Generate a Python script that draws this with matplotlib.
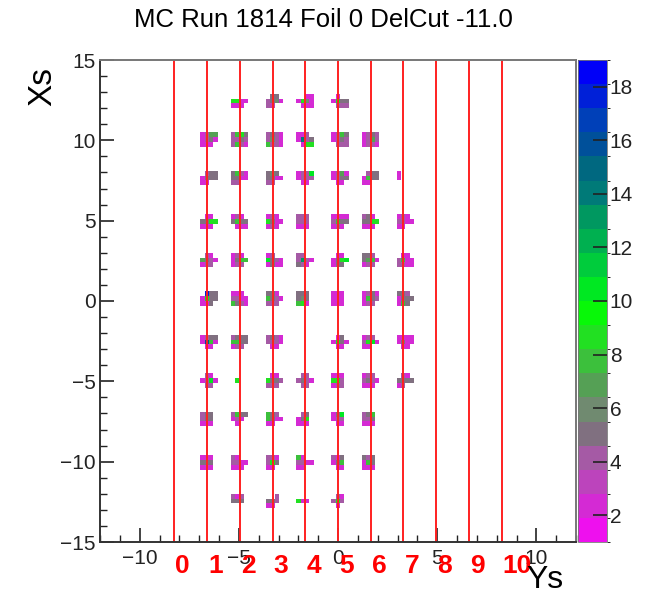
import numpy as np
import matplotlib
matplotlib.use("Agg")
import matplotlib.pyplot as plt
from matplotlib.colors import ListedColormap, BoundaryNorm
from matplotlib.ticker import MultipleLocator

plt.rcParams['font.family'] = ['Liberation Sans', 'DejaVu Sans']

title = "MC Run 1814 Foil 0 DelCut -11.0"
x_label = "Ys"
y_label = "Xs"

# Sieve-slit line positions (Ys) and their labels
line_pos = [-8.25, -6.6, -4.95, -3.3, -1.65, 0.0, 1.65, 3.3, 4.95, 6.6, 8.25]
line_labels = ["0", "1", "2", "3", "4", "5", "6", "7", "8", "9", "10"]

# Cluster rows (Xs) and column index k (Ys = k * 1.65)
row_xs = [12.5, 10.0, 7.5, 5.0, 2.5, 0.0, -2.5, -5.0, -7.5, -10.0, -12.5]

# counts per cluster: list of (k, 3x4 matrix [top, mid, bottom])
clusters_r12p5 = [
    (-3, [[0, 0, 0, 0], [9, 9, 2, 2], [2, 2, 2, 0]]),
    (-2, [[0, 5, 5, 0], [4, 5, 6, 2], [4, 3, 0, 0]]),
    (-1, [[0, 0, 2, 2], [2, 9, 6, 2], [0, 2, 2, 2]]),
    (0, [[0, 2, 0, 0], [2, 9, 5, 5], [0, 4, 4, 4]]),
]
clusters_r10 = [
    (-4, [[2, 4, 7, 7], [2, 4, 5, 2], [2, 2, 2, 0]]),
    (-3, [[4, 8, 9, 5], [4, 4, 5, 4], [4, 8, 4, 2]]),
    (-2, [[4, 5, 4, 2], [4, 6, 4, 2], [8, 4, 4, 2]]),
    (-1, [[2, 2, 4, 0], [2, 14, 4, 5], [0, 2, 9, 9]]),
    (0, [[2, 4, 8, 5], [2, 4, 5, 4], [0, 4, 4, 4]]),
    (1, [[2, 4, 5, 4], [2, 4, 7, 4], [2, 4, 4, 2]]),
]
clusters_r7p5 = [
    (-4, [[0, 4, 5, 5], [2, 5, 5, 5], [2, 2, 0, 0]]),
    (-3, [[5, 8, 4, 2], [5, 5, 2, 2], [4, 4, 0, 0]]),
    (-2, [[5, 6, 5, 0], [5, 5, 2, 2], [4, 4, 0, 0]]),
    (-1, [[2, 4, 4, 10], [2, 4, 4, 4], [0, 2, 2, 0]]),
    (0, [[2, 4, 7, 2], [2, 4, 5, 5], [0, 2, 2, 0]]),
    (1, [[0, 4, 5, 5], [2, 8, 5, 5], [2, 2, 0, 0]]),
    (2, [[2, 0, 0, 0], [2, 0, 0, 0], [0, 0, 0, 0]]),
]
clusters_r5 = [
    (-4, [[0, 2, 2, 0], [5, 5, 9, 9], [2, 2, 2, 0]]),
    (-3, [[2, 4, 2, 0], [5, 8, 5, 5], [0, 2, 2, 2]]),
    (-2, [[2, 4, 2, 0], [9, 5, 2, 2], [2, 4, 2, 0]]),
    (-1, [[4, 4, 4, 0], [4, 4, 4, 0], [2, 2, 2, 0]]),
    (0, [[2, 2, 2, 2], [4, 8, 5, 5], [2, 4, 2, 0]]),
    (1, [[4, 5, 2, 0], [5, 5, 9, 9], [2, 2, 2, 0]]),
    (2, [[2, 4, 2, 0], [4, 4, 2, 2], [2, 2, 0, 0]]),
]
clusters_r2p5 = [
    (-4, [[0, 4, 2, 0], [7, 5, 4, 2], [2, 4, 4, 0]]),
    (-3, [[2, 4, 2, 0], [2, 5, 8, 8], [2, 4, 4, 0]]),
    (-2, [[2, 4, 0, 0], [10, 5, 4, 2], [2, 5, 2, 2]]),
    (-1, [[4, 4, 0, 0], [4, 13, 4, 2], [5, 4, 2, 0]]),
    (0, [[0, 2, 2, 0], [2, 5, 9, 10], [2, 5, 5, 0]]),
    (1, [[5, 5, 4, 0], [5, 7, 8, 2], [2, 4, 4, 0]]),
    (2, [[0, 2, 2, 0], [4, 8, 2, 2], [4, 4, 2, 2]]),
]
clusters_r0 = [
    (-4, [[0, 18, 5, 5], [2, 9, 5, 5], [2, 2, 5, 0]]),
    (-3, [[2, 2, 2, 0], [4, 4, 2, 2], [8, 5, 4, 2]]),
    (-2, [[5, 5, 2, 0], [8, 5, 4, 2], [4, 4, 4, 0]]),
    (-1, [[5, 5, 5, 0], [5, 6, 5, 0], [8, 9, 2, 0]]),
    (0, [[2, 2, 2, 0], [2, 2, 2, 0], [2, 2, 2, 0]]),
    (1, [[2, 4, 5, 2], [2, 8, 5, 4], [2, 4, 4, 0]]),
    (2, [[5, 5, 4, 0], [2, 5, 5, 5], [2, 8, 5, 0]]),
]
clusters_rm2p5 = [
    (-4, [[2, 4, 5, 5], [2, 16, 8, 2], [0, 2, 2, 0]]),
    (-3, [[4, 5, 5, 5], [8, 8, 5, 5], [2, 4, 4, 0]]),
    (-2, [[4, 5, 4, 2], [4, 4, 4, 2], [0, 2, 2, 0]]),
    (0, [[0, 2, 5, 0], [2, 9, 5, 2], [0, 2, 2, 0]]),
    (1, [[2, 4, 4, 0], [4, 9, 10, 2], [2, 2, 0, 0]]),
    (2, [[2, 2, 2, 2], [2, 5, 2, 2], [0, 2, 2, 0]]),
]
clusters_rm5 = [
    (-4, [[0, 4, 2, 0], [2, 4, 10, 2], [0, 4, 4, 0]]),
    (-3, [[0, 0, 0, 0], [0, 9, 0, 0], [0, 0, 0, 0]]),
    (-2, [[0, 2, 2, 0], [9, 5, 5, 4], [4, 4, 4, 0]]),
    (-1, [[0, 4, 4, 0], [4, 5, 4, 2], [0, 4, 4, 0]]),
    (0, [[2, 2, 2, 0], [9, 9, 4, 0], [2, 4, 4, 0]]),
    (1, [[2, 4, 4, 0], [4, 5, 4, 2], [2, 2, 2, 0]]),
    (2, [[0, 4, 2, 0], [5, 5, 5, 5], [2, 4, 0, 0]]),
]
clusters_rm7p5 = [
    (-4, [[4, 5, 5, 0], [4, 5, 5, 0], [2, 2, 2, 0]]),
    (-3, [[4, 8, 5, 5], [2, 4, 2, 0], [0, 2, 0, 0]]),
    (-2, [[8, 5, 4, 0], [8, 5, 2, 2], [2, 2, 0, 0]]),
    (-1, [[0, 4, 5, 0], [2, 5, 9, 0], [2, 2, 2, 0]]),
    (0, [[2, 5, 10, 0], [2, 4, 4, 0], [0, 2, 2, 0]]),
    (1, [[4, 5, 8, 0], [4, 4, 5, 0], [2, 2, 2, 0]]),
]
clusters_rm10 = [
    (-4, [[2, 2, 2, 0], [5, 5, 5, 0], [2, 2, 2, 0]]),
    (-3, [[4, 2, 0, 0], [4, 4, 2, 2], [2, 2, 2, 0]]),
    (-2, [[4, 4, 2, 0], [4, 9, 5, 0], [2, 2, 0, 0]]),
    (-1, [[8, 2, 0, 0], [4, 4, 2, 2], [2, 2, 0, 0]]),
    (0, [[4, 2, 5, 0], [2, 5, 8, 0], [0, 2, 2, 0]]),
    (1, [[5, 4, 5, 0], [2, 8, 5, 0], [2, 2, 2, 0]]),
]
clusters_rm12p5 = [
    (-3, [[4, 2, 4, 0], [5, 5, 5, 0], [0, 0, 0, 0]]),
    (-2, [[0, 0, 4, 0], [5, 5, 4, 0], [2, 2, 0, 0]]),
    (-1, [[0, 0, 0, 0], [9, 2, 2, 0], [0, 0, 0, 0]]),
    (0, [[0, 4, 2, 0], [4, 9, 4, 0], [0, 2, 0, 0]]),
]
all_clusters = [clusters_r12p5, clusters_r10, clusters_r7p5, clusters_r5,
                clusters_r2p5, clusters_r0, clusters_rm2p5, clusters_rm5,
                clusters_rm7p5, clusters_rm10, clusters_rm12p5]
col_spacing = 1.65

# Palette (20 levels, from colour bar)
palette = ["#EE10EE", "#D42AD4", "#BC44BC", "#A55AA5", "#807080",
           "#708A70", "#55A055", "#3CC03C", "#22E022", "#08F808",
           "#00E822", "#00CC3C", "#00B050", "#009860", "#007A78",
           "#006880", "#00509A", "#0040B8", "#0020D8", "#0000F8"]
zmin, zmax = 1.0, 19.0

# --- build histogram ---
bx, by = 0.22, 0.3
xedges = np.arange(-12.0, 12.0 + 1e-6, bx)
if xedges[-1] < 12.0:
    xedges = np.append(xedges, xedges[-1] + bx)
yedges = np.arange(-15.0, 15.0 + 1e-6, by)
H = np.zeros((len(yedges) - 1, len(xedges) - 1))
for rx, row in zip(row_xs, all_clusters):
    iy_mid = int(np.floor((rx - yedges[0]) / by))
    for k, mat in row:
        cx = k * col_spacing
        ix0 = int(round((cx - 2 * bx - xedges[0]) / bx))
        for r, vals in enumerate(mat):
            iy = iy_mid + 1 - r
            for c, v in enumerate(vals):
                if v > 0:
                    H[iy, ix0 + c] += v

Hm = np.ma.masked_where(H <= 0, H)

W, Hpx = 657, 596
fig = plt.figure(figsize=(W / 100, Hpx / 100), dpi=100)
ax = fig.add_axes([100 / W, 1 - 542 / Hpx, 476 / W, 482 / Hpx])
cax = fig.add_axes([578 / W, 1 - 542 / Hpx, 29 / W, 482 / Hpx])

cmap = ListedColormap(palette)
norm = BoundaryNorm(np.linspace(zmin, zmax, 21), cmap.N)
mesh = ax.pcolormesh(xedges, yedges, Hm, cmap=cmap, norm=norm,
                     antialiased=True)

ax.set_xlim(-12, 12)
ax.set_ylim(-15, 15)

for xp in line_pos:
    ax.axvline(xp, color="#FF2020", lw=1.4)

trans = matplotlib.transforms.blended_transform_factory(ax.transData, ax.transAxes)
for xp, lab in zip(line_pos, line_labels):
    ax.text(xp + 0.05, -0.05, lab, transform=trans, color="red",
            fontsize=19, fontweight="bold", ha="left", va="center", clip_on=False)

ax.xaxis.set_major_locator(MultipleLocator(5))
ax.xaxis.set_minor_locator(MultipleLocator(1))
ax.yaxis.set_major_locator(MultipleLocator(5))
ax.yaxis.set_minor_locator(MultipleLocator(1))
ax.tick_params(which="major", direction="in", length=10, width=1.2,
               labelsize=15, top=False, right=False, colors="#222222")
ax.tick_params(which="minor", direction="in", length=5, width=1.0,
               top=False, right=False, colors="#222222")
ax.tick_params(axis="x", which="major", pad=5)
ax.tick_params(axis="y", which="major", pad=3)
for sp in ax.spines.values():
    sp.set_linewidth(1.4)
    sp.set_color("#333333")
ax.spines["top"].set_color("#777777")
ax.spines["right"].set_color("#777777")

cb = fig.colorbar(mesh, cax=cax, ticks=[2, 4, 6, 8, 10, 12, 14, 16, 18])
cb.outline.set_linewidth(0.6)
cb.outline.set_edgecolor("#777777")
cax.tick_params(direction="in", length=10, width=1.2, labelsize=15,
                right=True, left=False, colors="#222222", pad=2)
cax.set_ylim(zmin, zmax)

fig.text(323 / W, 1 - 20 / Hpx, title, ha="center", va="center", fontsize=18.5)
fig.text(43 / W, 1 - 87 / Hpx, y_label, ha="center", va="center", fontsize=24, rotation=90)
fig.text(545 / W, 1 - 580 / Hpx, x_label, ha="center", va="center", fontsize=23)

fig.savefig("out.png", dpi=100)
